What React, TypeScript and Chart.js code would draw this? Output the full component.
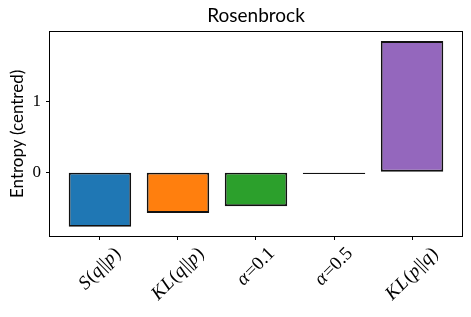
import React, { useEffect, useRef } from "react";
import { Chart, registerables } from "chart.js";

Chart.register(...registerables);

const categories = ["S(q||p)", "KL(q||p)", "α=0.1", "α=0.5", "KL(p||q)"];
const values = [-0.77, -0.575, -0.48, -0.025, 1.85];
const colors = ["#1f77b4", "#ff7f0e", "#2ca02c", "#d62728", "#9467bd"];
const yTicks = [0, 1];
const chartTitle = "Rosenbrock";
const yTitle = "Entropy (centred)";

const MATH_SIZE = 19;
const mathFont = (italic: boolean) => `${italic ? "italic " : ""}${MATH_SIZE}px "Liberation Serif"`;
const splitMath = (s: string) =>
  (s.match(/[A-Za-z\u03b1-\u03c9]+|[^A-Za-z\u03b1-\u03c9]+/g) || []).map((t) => ({
    text: t,
    italic: /[A-Za-z\u03b1-\u03c9]/.test(t),
  }));

export default function App() {
  const ref = useRef<HTMLCanvasElement>(null);

  useEffect(() => {
    const vmin = Math.min(0, ...values);
    const vmax = Math.max(0, ...values);
    const yPad = (vmax - vmin) * 0.05;
    const xLo = -0.4;
    const xHi = categories.length - 1 + 0.4;
    const xPad = (xHi - xLo) * 0.05;

    const framePlugin = {
      id: "frameAndLabels",
      afterDraw(chart: any) {
        const { ctx, chartArea } = chart;
        const { left, top, right, bottom } = chartArea;
        ctx.save();
        ctx.strokeStyle = "#000";
        ctx.lineWidth = 1;
        ctx.strokeRect(Math.round(left) - 0.5, Math.round(top) - 0.5, Math.round(right - left) + 1, Math.round(bottom - top) + 1);

        const xs = chart.scales.x;
        const topY = xs.top + 4 + 4;
        ctx.fillStyle = "#000";
        ctx.textBaseline = "middle";
        ctx.textAlign = "left";
        categories.forEach((lab, i) => {
          const segs = splitMath(lab);
          let W = 0;
          const widths = segs.map((sg) => {
            ctx.font = mathFont(sg.italic);
            const w = ctx.measureText(sg.text).width + (sg.italic ? 0.8 * sg.text.length : 0);
            W += w;
            return w;
          });
          const H = MATH_SIZE;
          const cx = xs.getPixelForValue(i);
          const cy = topY + (W + H) / (2 * Math.SQRT2);
          ctx.save();
          ctx.translate(cx, cy);
          ctx.rotate(-Math.PI / 4);
          let x = -W / 2;
          segs.forEach((sg, k) => {
            ctx.font = mathFont(sg.italic);
            if (sg.italic) {
              let xx = x;
              for (const ch of sg.text) {
                ctx.fillText(ch, xx, 0);
                xx += ctx.measureText(ch).width + 0.8;
              }
            } else {
              ctx.fillText(sg.text, x, 0);
            }
            x += widths[k];
          });
          ctx.restore();
        });
        ctx.restore();
      },
    };

    const chart = new Chart(ref.current!, {
      type: "bar",
      data: {
        datasets: [
          {
            data: values.map((v, i) => ({ x: i, y: v })),
            backgroundColor: colors,
            borderColor: "#111",
            borderWidth: 1.8,
            borderSkipped: false,
            barPercentage: 0.8,
            categoryPercentage: 1,
          } as any,
        ],
      },
      options: {
        animation: false,
        responsive: false,
        maintainAspectRatio: false,
        layout: { padding: { left: 0, right: 9, top: 0, bottom: 0 } },
        plugins: {
          legend: { display: false },
          tooltip: { enabled: false },
          title: {
            display: true,
            text: chartTitle,
            fullSize: false,
            color: "#000",
            font: { family: "Lato", size: 19, weight: "normal" },
            padding: { top: 4, bottom: 5 },
          },
        },
        scales: {
          x: {
            type: "linear",
            offset: false,
            min: xLo - xPad,
            max: xHi + xPad,
            afterBuildTicks: (s: any) => {
              s.ticks = categories.map((_, i) => ({ value: i }));
            },
            ticks: { display: false },
            grid: { offset: false, drawOnChartArea: false, drawTicks: true, tickLength: 4, color: "#000", lineWidth: 1 },
            border: { display: false },
            afterFit: (s: any) => {
              s.height = 81;
            },
          },
          y: {
            type: "linear",
            min: vmin - yPad,
            max: vmax + yPad,
            afterBuildTicks: (s: any) => {
              s.ticks = yTicks.map((v) => ({ value: v }));
            },
            ticks: {
              color: "#000",
              padding: 5,
              font: { family: "Liberation Serif", size: 17 },
              callback: (v: any) => String(v),
            },
            grid: { drawOnChartArea: false, drawTicks: true, tickLength: 4, color: "#000", lineWidth: 1 },
            border: { display: false },
            title: {
              display: true,
              text: yTitle,
              color: "#000",
              font: { family: "Lato", size: 17 },
              padding: { top: 7, bottom: 0 },
            },
            afterFit: (s: any) => {
              s.width = 50;
            },
          },
        },
      } as any,
      plugins: [framePlugin],
    });
    return () => chart.destroy();
  }, []);

  return (
    <div style={{ position: "fixed", left: 0, top: 0, width: 471, height: 317, background: "#fff" }}>
      <canvas ref={ref} width={471} height={317} style={{ display: "block" }} />
    </div>
  );
}
